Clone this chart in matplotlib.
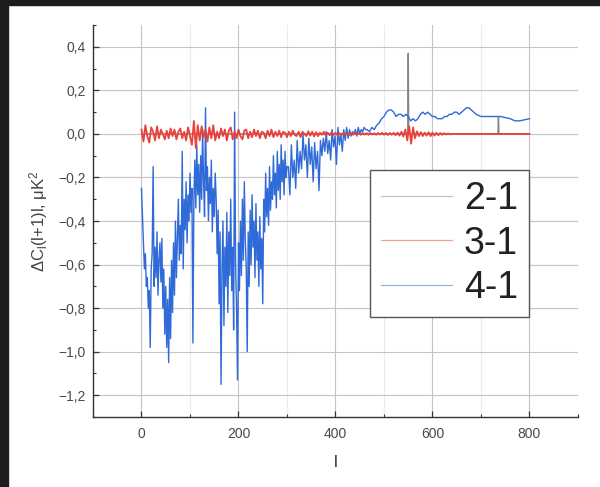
import numpy as np
import matplotlib
matplotlib.use("Agg")
import matplotlib.pyplot as plt
from matplotlib.ticker import MultipleLocator, FuncFormatter
from matplotlib.patches import Rectangle

plt.rcParams['font.family'] = ['Liberation Sans', 'DejaVu Sans']
plt.rcParams['mathtext.fontset'] = 'custom'
plt.rcParams['mathtext.rm'] = 'Liberation Sans'
plt.rcParams['mathtext.it'] = 'Liberation Sans:italic'

# 4-1 difference, l = 0..300 every 2
dcl_41_a = [
    -0.25, -0.38, -0.50, -0.62, -0.55, -0.70, -0.66, -0.80, -0.72, -0.98,
    -0.62, -0.55, -0.15, -0.70, -0.52, -0.66, -0.45, -0.74, -0.58, -0.50,
    -0.68, -0.48, -0.80, -0.62, -0.92, -0.70, -0.98, -0.76, -1.05, -0.66,
    -0.94, -0.58, -0.82, -0.50, -0.74, -0.40, -0.66, -0.48, -0.30, -0.58,
    -0.42, -0.55, -0.08, -0.62, -0.30, -0.44, -0.22, -0.50, -0.28, -0.40,
    -0.18, -0.36, -0.25, -0.96, -0.30, -0.12, -0.34, -0.05, -0.28, -0.14,
    -0.36, -0.10, -0.30, 0.02, -0.22, -0.38, 0.12, -0.26, -0.15, -0.40,
    -0.20, -0.32, -0.12, -0.45, -0.25, -0.38, -0.18, -0.30, -0.55, -0.35,
    -0.78, -0.45, -1.15, -0.62, -0.40, -0.88, -0.52, -0.70, -0.36, -0.82,
    -0.45, -0.65, -0.30, -0.72, -0.52, -0.90, 0.10, -0.60, -0.80, -1.13,
    -0.50, -0.72, -0.40, -0.65, -0.30, -0.58, -0.22, -0.48, -0.62, -1.00,
    -0.45, -0.70, -0.35, -0.60, -0.28, -0.52, -0.40, -0.66, -0.32, -0.58,
    -0.45, -0.70, -0.38, -0.62, -0.48, -0.78, -0.30, -0.45, -0.18, -0.38,
    -0.25, -0.42, -0.15, -0.35, -0.22, -0.30, -0.10, -0.28, -0.18, -0.34,
    -0.08, -0.26, -0.14, -0.30, -0.05, -0.22, -0.12, -0.28, -0.08, -0.20,
    -0.15,
]
l_41_a = list(range(0, 301, 2))

# 4-1 difference, l = 303..462 every 3
dcl_41_b = [
    -0.15, -0.28, -0.05, -0.20, -0.12, -0.25, -0.03, -0.18, -0.08, -0.16,
    0.00, -0.12, -0.05, -0.20, -0.02, -0.14, -0.06, -0.22, -0.04, -0.16,
    -0.08, -0.26, -0.03, -0.10, -0.02, -0.08, 0.01, -0.09, -0.03, -0.12,
    0.02, -0.06, -0.01, -0.14, 0.03, -0.05, 0.00, -0.08, 0.02, -0.03,
    0.03, -0.02, 0.02, -0.01, 0.01, 0.00, 0.02, -0.01, 0.03, 0.00,
    0.02, 0.01, 0.03, 0.02,
]
l_41_b = list(range(303, 463, 3))

# smoother high-l tail of 4-1
l_41_c = list(range(465, 695, 5)) + list(range(700, 810, 10))
dcl_41_c = [
    0.02, 0.01, 0.03, 0.02, 0.04, 0.05, 0.07, 0.08, 0.10, 0.11,
    0.11, 0.10, 0.08, 0.09, 0.09, 0.08, 0.09, 0.08, 0.06, 0.07,
    0.06, 0.07, 0.09, 0.10, 0.09, 0.10, 0.09, 0.08, 0.08, 0.07,
    0.07, 0.07, 0.08, 0.08, 0.09, 0.09, 0.10, 0.10, 0.09, 0.10,
    0.11, 0.12, 0.12, 0.11, 0.10, 0.09,
    0.08, 0.08, 0.08, 0.08, 0.08, 0.075, 0.07, 0.06, 0.06, 0.065, 0.07,
]

# 3-1 difference, l = 0..640 every 4, then flat
l_31 = list(range(0, 641, 4)) + [700, 800]
dcl_31 = [
    0.02, -0.035, 0.04, -0.01, -0.04, 0.03, 0.01, -0.03, 0.035, -0.02,
    0.02, 0.00, -0.025, 0.015, -0.02, 0.025, -0.01, 0.02, -0.025, 0.01,
    0.025, -0.02, 0.01, -0.03, 0.03, -0.01, -0.05, 0.06, -0.065, 0.04,
    -0.03, 0.035, -0.015, 0.02, -0.035, 0.03, -0.02, 0.04, -0.03, 0.01,
    -0.02, 0.025, -0.01, 0.02, -0.03, 0.015, 0.03, -0.025, 0.01, -0.02,
    0.02, -0.01, -0.025, 0.015, 0.02, -0.02, 0.01, -0.015, 0.02, -0.01,
    0.015, -0.02, 0.01, 0.005, -0.02, 0.015, -0.01, 0.02, -0.015, 0.01,
    -0.01, 0.015, -0.015, 0.01, 0.005, -0.015, 0.01, -0.01, 0.015, -0.005,
    -0.01, 0.01, -0.015, 0.01, 0.0, -0.01, 0.012, -0.008, 0.01, -0.012,
    0.008, -0.01, 0.006, -0.004, 0.01, -0.008, 0.005, -0.006, 0.008, -0.005,
    0.006, -0.006, 0.004, -0.005, 0.005, -0.003, 0.004, -0.005, 0.003, -0.004,
    0.004, -0.003, 0.003, -0.004, 0.004, -0.003, 0.003, -0.004, 0.004, -0.003,
    0.003, -0.004, 0.004, -0.003, 0.005, -0.004, 0.004, -0.005, 0.004, -0.004,
    0.005, -0.006, 0.006, -0.008, 0.01, -0.012, 0.02, -0.03, 0.035, -0.045,
    0.03, -0.02, 0.012, -0.01, 0.008, -0.01, 0.006, -0.008, 0.008, -0.01,
    0.006, -0.008, 0.005, -0.006, 0.004, -0.004, 0.003, -0.003, 0.002, -0.002,
    0.0,
    0.0, 0.0,
]

# 2-1 difference
l_21 = [0, 100, 200, 300, 400, 500, 549, 550, 551, 600, 700, 735, 736, 737, 800]
dcl_21 = [0, 0, 0, 0, 0, 0, 0, 0.37, 0, 0, 0, 0, 0.078, 0, 0]

labels = ['2-1', '3-1', '4-1']

fig = plt.figure(figsize=(6.0, 4.87), dpi=100)
ax = fig.add_axes([0.155, 0.1437, 0.8083, 0.8049])

ax.plot(l_21, dcl_21, color='#7f8590', lw=1.0, label=labels[0], zorder=3)
ax.plot(l_41_a + l_41_b + l_41_c, dcl_41_a + dcl_41_b + dcl_41_c,
        color='#2f6ad8', lw=1.0, label=labels[2], zorder=4)
ax.plot(l_31, dcl_31, color='#e8423c', lw=1.3, label=labels[1], zorder=5)

ax.set_xlim(-100, 900)
ax.set_ylim(-1.3, 0.5)
ax.xaxis.set_major_locator(MultipleLocator(200))
ax.xaxis.set_minor_locator(MultipleLocator(100))
ax.yaxis.set_major_locator(MultipleLocator(0.2))
ax.yaxis.set_minor_locator(MultipleLocator(0.1))
ax.yaxis.set_major_formatter(FuncFormatter(
    lambda v, p: f'{v:.1f}'.replace('.', ',').replace('-', '\u2212')))

ax.grid(True, which='major', color='#c4c4c4', lw=0.8, zorder=0)
ax.grid(True, which='minor', axis='x', color='#ebebeb', lw=0.8, zorder=0)
ax.set_axisbelow(True)

for side in ['top', 'right']:
    ax.spines[side].set_visible(False)
for side in ['left', 'bottom']:
    ax.spines[side].set_color('#333333')
    ax.spines[side].set_linewidth(1.0)

ax.tick_params(which='major', direction='in', length=4, width=0.9,
               color='#333333', labelsize=10, labelcolor='#4a4a4a')
ax.tick_params(which='minor', direction='in', length=2.5, width=0.8,
               color='#333333')
ax.tick_params(axis='x', pad=7)
ax.tick_params(axis='y', pad=5)

ax.set_xlabel('l', fontsize=12, color='#333333', labelpad=10)
ax.set_ylabel('ΔC$_\\mathrm{l}$(l+1)l, μK$^2$', fontsize=12, color='#444444',
              labelpad=6)

handles, labs = ax.get_legend_handles_labels()
order = [labs.index(s) for s in labels]
leg = ax.legend([handles[i] for i in order], [labs[i] for i in order],
                loc='upper left', bbox_to_anchor=(0.571, 0.630),
                fontsize=27, frameon=True, fancybox=False, framealpha=1,
                edgecolor='#555555', handlelength=1.9, handletextpad=0.3,
                labelspacing=0.22, borderpad=0.3, borderaxespad=0)
leg.get_frame().set_linewidth(1.0)
for t in leg.get_texts():
    t.set_color('#222222')
for h in leg.get_lines():
    h.set_linewidth(0.9)
    h.set_alpha(0.5)
leg.set_zorder(10)

# dark frame strips on the left and top edges
fig.patches.append(Rectangle((0, 0), 8 / 600, 1, transform=fig.transFigure,
                             color='#1c1c1c', zorder=20))
fig.patches.append(Rectangle((0, 1 - 5 / 487), 1, 5 / 487,
                             transform=fig.transFigure, color='#1c1c1c',
                             zorder=20))

fig.savefig('out.png', dpi=100)
